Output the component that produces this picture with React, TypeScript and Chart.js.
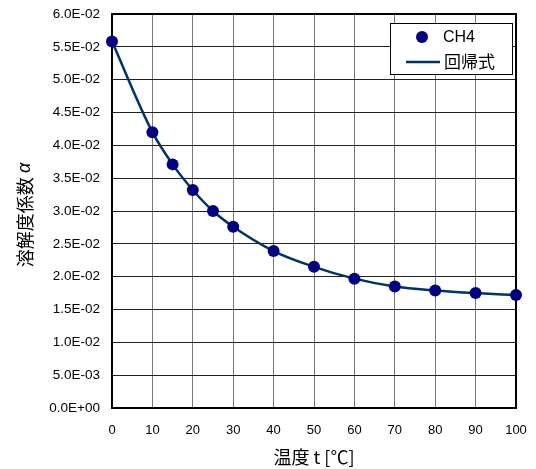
import React, { useEffect, useRef } from "react";
import { Chart, registerables } from "chart.js";

Chart.register(...registerables);

const temperatures = [0, 10, 15, 20, 25, 30, 40, 50, 60, 70, 80, 90, 100];
const ch4Alpha = [0.0558, 0.042, 0.0371, 0.0332, 0.03, 0.0276, 0.0239, 0.0215, 0.0197, 0.0185, 0.0179, 0.0175, 0.0172];
const regressionAlpha = [0.0558, 0.042, 0.0371, 0.0332, 0.03, 0.0276, 0.0239, 0.0215, 0.0197, 0.0185, 0.0179, 0.0175, 0.0172];

const seriesLabel = "CH4";
const regressionLabel = "回帰式";
const xTitle = "温度 t [℃]";
const yTitleMain = "溶解度係数 ";
const yTitleSymbol = "α";

const X_MIN = 0, X_MAX = 100, X_STEP = 10;
const Y_MIN = 0, Y_MAX = 0.06, Y_STEP = 0.005;

const DOT_COLOR = "#000080";
const LINE_COLOR = "#003366";
const CJK = "'Noto Sans CJK JP', sans-serif";
const LATIN = "'Liberation Sans', Arial, sans-serif";

function fmtSci(v: number): string {
  if (Math.abs(v) < 1e-12) return "0.0E+00";
  const exp = Math.floor(Math.log10(Math.abs(v)) + 1e-9);
  const mant = v / Math.pow(10, exp);
  const sign = exp < 0 ? "-" : "+";
  return `${mant.toFixed(1)}E${sign}${String(Math.abs(exp)).padStart(2, "0")}`;
}

const framePlugin = {
  id: "frame",
  beforeDatasetsDraw(chart: any) {
    const { ctx, chartArea: a } = chart;
    ctx.save();
    ctx.strokeStyle = "#000";
    ctx.lineWidth = 2;
    ctx.strokeRect(a.left, a.top, a.right - a.left, a.bottom - a.top);
    ctx.restore();
  },
};

const yTitlePlugin = {
  id: "yTitle",
  afterDraw(chart: any) {
    const { ctx, chartArea: a } = chart;
    ctx.save();
    const cy = (a.top + a.bottom) / 2 + 4;
    ctx.translate(25, cy);
    ctx.rotate(-Math.PI / 2);
    ctx.fillStyle = "#000";
    ctx.textBaseline = "middle";
    const f1 = `18px ${CJK}`;
    const f2 = `italic 18px ${LATIN}`;
    ctx.font = f1;
    const w1 = ctx.measureText(yTitleMain).width;
    ctx.font = f2;
    const w2 = ctx.measureText(yTitleSymbol).width;
    const start = -(w1 + w2) / 2;
    ctx.textAlign = "left";
    ctx.font = f1;
    ctx.fillText(yTitleMain, start, 0);
    ctx.font = f2;
    ctx.fillText(yTitleSymbol, start + w1, 0);
    ctx.restore();
  },
};

const legendPlugin = {
  id: "boxLegend",
  afterDraw(chart: any) {
    const { ctx } = chart;
    ctx.save();
    const x = 390.5, y = 23.5, w = 122, h = 51;
    ctx.fillStyle = "#fff";
    ctx.fillRect(x, y, w, h);
    ctx.strokeStyle = "#000";
    ctx.lineWidth = 1;
    ctx.strokeRect(x, y, w, h);
    ctx.fillStyle = DOT_COLOR;
    ctx.beginPath();
    ctx.arc(422, 37, 6, 0, Math.PI * 2);
    ctx.fill();
    ctx.strokeStyle = LINE_COLOR;
    ctx.lineWidth = 2.5;
    ctx.beginPath();
    ctx.moveTo(406, 62);
    ctx.lineTo(440, 62);
    ctx.stroke();
    ctx.fillStyle = "#000";
    ctx.textBaseline = "middle";
    ctx.textAlign = "left";
    ctx.font = `16px ${LATIN}`;
    ctx.fillText(seriesLabel, 443, 38);
    ctx.font = `17px ${CJK}`;
    ctx.fillText(regressionLabel, 444, 62);
    ctx.restore();
  },
};

export default function App() {
  const ref = useRef<HTMLCanvasElement | null>(null);
  useEffect(() => {
    document.body.style.margin = "0";
    const canvas = ref.current;
    if (!canvas) return;
    const chart = new Chart(canvas, {
      type: "scatter",
      data: {
        datasets: [
          {
            label: seriesLabel,
            data: temperatures.map((t, i) => ({ x: t, y: ch4Alpha[i] })),
            backgroundColor: DOT_COLOR,
            borderColor: DOT_COLOR,
            pointRadius: 6,
            pointBorderWidth: 0,
            showLine: false,
            order: 0,
          },
          {
            label: regressionLabel,
            data: temperatures.map((t, i) => ({ x: t, y: regressionAlpha[i] })),
            borderColor: LINE_COLOR,
            backgroundColor: LINE_COLOR,
            borderWidth: 2.5,
            pointRadius: 0,
            showLine: true,
            cubicInterpolationMode: "monotone",
            order: 1,
          },
        ],
      },
      options: {
        responsive: false,
        animation: false,
        events: [],
        clip: false as any,
        layout: { padding: { left: 0, top: 14, right: 20, bottom: 0 } },
        plugins: {
          legend: { display: false },
          tooltip: { enabled: false },
        },
        scales: {
          x: {
            type: "linear",
            min: X_MIN,
            max: X_MAX,
            afterFit: (s: any) => { s.height = 61; },
            ticks: {
              stepSize: X_STEP,
              padding: 0,
              color: "#000",
              font: { family: LATIN, size: 13 },
              maxRotation: 0,
            },
            grid: { color: "#777", lineWidth: 1, drawTicks: true, tickLength: 15, tickColor: "rgba(0,0,0,0)" },
            border: { display: false },
            title: {
              display: true,
              text: xTitle,
              color: "#000",
              font: { family: CJK, size: 18, lineHeight: 1.2 },
              padding: { top: 0, bottom: 1 },
            },
          },
          y: {
            type: "linear",
            min: Y_MIN,
            max: Y_MAX,
            afterFit: (s: any) => { s.width = 112; },
            ticks: {
              stepSize: Y_STEP,
              padding: 0,
              color: "#000",
              font: { family: LATIN, size: 13.5 },
              callback: (v: any) => fmtSci(Number(v)),
            },
            grid: { color: "#222", lineWidth: 1, drawTicks: true, tickLength: 12, tickColor: "rgba(0,0,0,0)" },
            border: { display: false },
            title: { display: false },
          },
        },
      },
      plugins: [framePlugin, yTitlePlugin, legendPlugin],
    } as any);
    return () => chart.destroy();
  }, []);
  return <canvas ref={ref} width={536} height={469} style={{ display: "block", width: 536, height: 469 }} />;
}
